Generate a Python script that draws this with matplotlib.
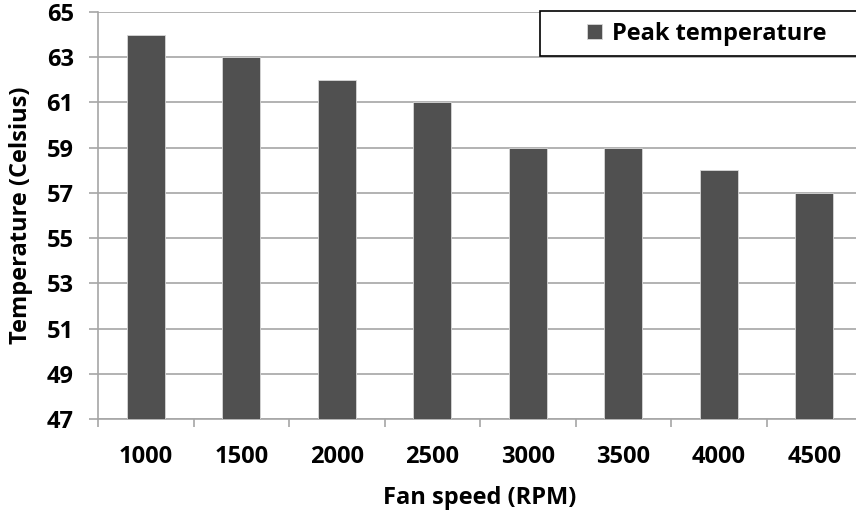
import matplotlib
matplotlib.use("Agg")
import matplotlib.pyplot as plt
from matplotlib.patches import Rectangle

fan_speed = ["1000", "1500", "2000", "2500", "3000", "3500", "4000", "4500"]
peak_temp = [64, 63, 62, 61, 59, 59, 58, 57]
y_ticks = [47, 49, 51, 53, 55, 57, 59, 61, 63, 65]

plt.rcParams['font.family'] = ['Open Sans', 'DejaVu Sans']
plt.rcParams['font.weight'] = 'bold'

grid_col = '#a6a6a6'
bar_col = '#505050'

fig = plt.figure(figsize=(8.56, 5.16), dpi=100)
ax = fig.add_axes([98/856, 1 - 419/516, 764/856, 407/516])

x = list(range(len(fan_speed)))
ax.bar(x, peak_temp, width=0.4, color=bar_col, label='Peak temperature', zorder=3,
       edgecolor='#d8d8d8', linewidth=0.6)

ax.set_xlim(-0.5, len(fan_speed) - 0.5)
ax.set_ylim(47, 65)
ax.set_yticks(y_ticks)
ax.set_xticks(x)
ax.set_xticklabels(fan_speed)
ax.set_xticks([i - 0.5 for i in range(len(fan_speed) + 1)], minor=True)

ax.grid(axis='y', color=grid_col, linewidth=1.2, zorder=0)
for s in ['top', 'right']:
    ax.spines[s].set_visible(False)
for s in ['left', 'bottom']:
    ax.spines[s].set_color(grid_col)
    ax.spines[s].set_linewidth(1.2)

ax.tick_params(axis='y', direction='out', length=6.5, width=1.2, color=grid_col,
               labelsize=17, pad=11)
ax.tick_params(axis='x', which='major', length=0, labelsize=17, pad=19)
ax.tick_params(axis='x', which='minor', direction='out', length=5.5, width=1.2,
               color=grid_col)

ax.set_xlabel('Fan speed (RPM)', fontsize=17, fontweight='bold', labelpad=12)
ax.set_ylabel('Temperature (Celsius)', fontsize=17, fontweight='bold', labelpad=10)

# legend box
ax.add_patch(Rectangle((540/856, 1 - 56/516), 330/856, 45/516,
                       transform=fig.transFigure, clip_on=False, facecolor='white',
                       edgecolor='black', linewidth=1.2, zorder=5))
leg = ax.legend(loc='center', bbox_to_anchor=(707/856, 1 - 34/516),
                bbox_transform=fig.transFigure, frameon=False, fontsize=17,
                handlelength=0.62, handleheight=0.62, handletextpad=0.45)
leg.set_zorder(6)

fig.savefig('out.png', dpi=100)
